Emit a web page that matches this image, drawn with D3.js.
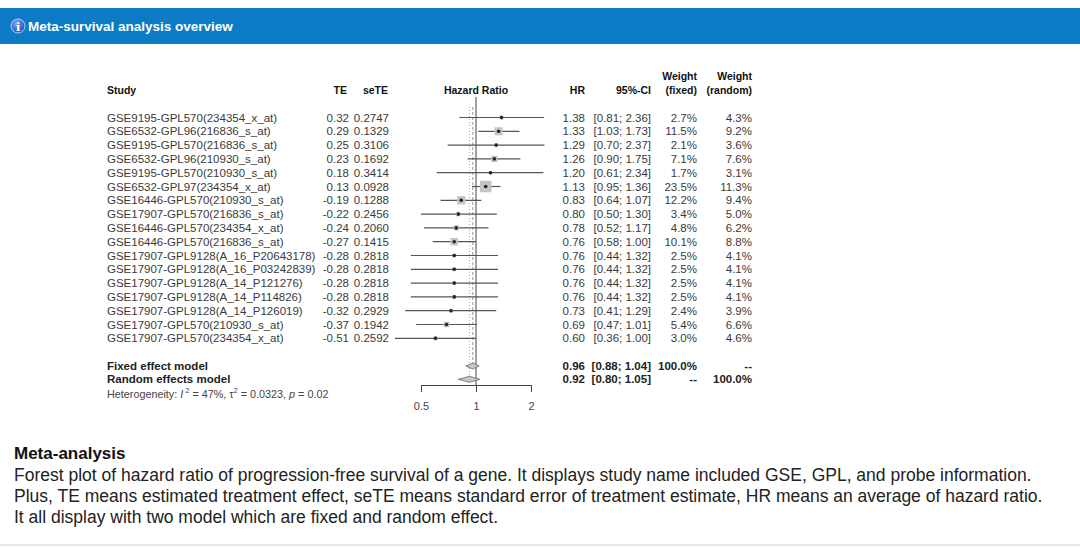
<!DOCTYPE html>
<html>
<head>
<meta charset="utf-8">
<script src="https://cdn.jsdelivr.net/npm/d3@7"></script>
<style>
  html, body { margin: 0; padding: 0; background: #fff; }
  svg { display: block; font-family: "Liberation Sans", Arial, sans-serif; }
</style>
</head>
<body>
<div id="chart"></div>
<script>
// forest plot: one row per study/probe
const STUDIES = [
  'GSE9195-GPL570(234354_x_at)',
  'GSE6532-GPL96(216836_s_at)',
  'GSE9195-GPL570(216836_s_at)',
  'GSE6532-GPL96(210930_s_at)',
  'GSE9195-GPL570(210930_s_at)',
  'GSE6532-GPL97(234354_x_at)',
  'GSE16446-GPL570(210930_s_at)',
  'GSE17907-GPL570(216836_s_at)',
  'GSE16446-GPL570(234354_x_at)',
  'GSE16446-GPL570(216836_s_at)',
  'GSE17907-GPL9128(A_16_P20643178)',
  'GSE17907-GPL9128(A_16_P03242839)',
  'GSE17907-GPL9128(A_14_P121276)',
  'GSE17907-GPL9128(A_14_P114826)',
  'GSE17907-GPL9128(A_14_P126019)',
  'GSE17907-GPL570(210930_s_at)',
  'GSE17907-GPL570(234354_x_at)'
];
const TE = [0.32, 0.29, 0.25, 0.23, 0.18, 0.13, -0.19, -0.22, -0.24, -0.27, -0.28, -0.28, -0.28, -0.28, -0.32, -0.37, -0.51];
const SE_TE = [0.2747, 0.1329, 0.3106, 0.1692, 0.3414, 0.0928, 0.1288, 0.2456, 0.2060, 0.1415, 0.2818, 0.2818, 0.2818, 0.2818, 0.2929, 0.1942, 0.2592];
const HR = [1.38, 1.33, 1.29, 1.26, 1.20, 1.13, 0.83, 0.80, 0.78, 0.76, 0.76, 0.76, 0.76, 0.76, 0.73, 0.69, 0.60];
const CI_LO = [0.81, 1.03, 0.70, 0.90, 0.61, 0.95, 0.64, 0.50, 0.52, 0.58, 0.44, 0.44, 0.44, 0.44, 0.41, 0.47, 0.36];
const CI_HI = [2.36, 1.73, 2.37, 1.75, 2.34, 1.36, 1.07, 1.30, 1.17, 1.00, 1.32, 1.32, 1.32, 1.32, 1.29, 1.01, 1.00];
const W_FIXED = [2.7, 11.5, 2.1, 7.1, 1.7, 23.5, 12.2, 3.4, 4.8, 10.1, 2.5, 2.5, 2.5, 2.5, 2.4, 5.4, 3.0];
const W_RANDOM = [4.3, 9.2, 3.6, 7.6, 3.1, 11.3, 9.4, 5.0, 6.2, 8.8, 4.1, 4.1, 4.1, 4.1, 3.9, 6.6, 4.6];

// pooled models
const MODELS = ['Fixed effect model', 'Random effects model'];
const MODEL_HR = [0.96, 0.92];
const MODEL_LO = [0.88, 0.80];
const MODEL_HI = [1.04, 1.05];
const MODEL_W_FIXED = ['100.0%', '--'];
const MODEL_W_RANDOM = ['--', '100.0%'];

const AXIS_TICKS = [0.5, 1, 2];

const W = 1080, H = 547;
const ROW_TOP = 117.5, ROW_STEP = 13.8;
const TEXT_COL = '#3a3a3a';

const svg = d3.select('#chart').append('svg').attr('width', W).attr('height', H);

// --- panel header bar
svg.append('rect').attr('x', 0).attr('y', 8).attr('width', W).attr('height', 36).attr('fill', '#0b7bc6');

const defs = svg.append('defs');
const grad = defs.append('radialGradient').attr('id', 'ico').attr('cx', '40%').attr('cy', '35%').attr('r', '70%');
grad.append('stop').attr('offset', '0%').attr('stop-color', '#7fa8f0');
grad.append('stop').attr('offset', '100%').attr('stop-color', '#1d48b8');
svg.append('circle').attr('cx', 18).attr('cy', 26).attr('r', 7).attr('fill', 'url(#ico)').attr('stroke', '#dfe8f8').attr('stroke-width', 0.8);
svg.append('text').attr('x', 18).attr('y', 30.5).attr('text-anchor', 'middle')
  .attr('font-family', '"DejaVu Serif", serif').attr('font-weight', 'bold')
  .attr('font-size', '11px').attr('fill', '#fff').text('i');
svg.append('text').attr('x', 28).attr('y', 30.5).attr('font-size', '13.5px').attr('font-weight', 'bold')
  .attr('fill', '#fff').text('Meta-survival analysis overview');

// --- scales
const x = d3.scaleLog().domain([0.5, 2]).range([421, 531]);
const y = d3.scaleLinear().domain([0, STUDIES.length - 1])
  .range([ROW_TOP, ROW_TOP + ROW_STEP * (STUDIES.length - 1)]);
const yModel = [366, 379.3];
const side = d3.scaleSqrt().domain([0, 23.5]).range([0, 11.5]);

// --- column headers
const hdr = svg.append('g').attr('font-size', '10.5px').attr('font-weight', 'bold').attr('fill', '#111');
const hdrY = 93.5;
hdr.append('text').attr('x', 107).attr('y', hdrY).text('Study');
hdr.append('text').attr('x', 347).attr('y', hdrY).attr('text-anchor', 'end').text('TE');
hdr.append('text').attr('x', 388).attr('y', hdrY).attr('text-anchor', 'end').text('seTE');
hdr.append('text').attr('x', 476).attr('y', hdrY).attr('text-anchor', 'middle').text('Hazard Ratio');
hdr.append('text').attr('x', 585).attr('y', hdrY).attr('text-anchor', 'end').text('HR');
hdr.append('text').attr('x', 651).attr('y', hdrY).attr('text-anchor', 'end').text('95%-CI');
hdr.append('text').attr('x', 697).attr('y', hdrY - 13.5).attr('text-anchor', 'end').text('Weight');
hdr.append('text').attr('x', 697).attr('y', hdrY).attr('text-anchor', 'end').text('(fixed)');
hdr.append('text').attr('x', 752).attr('y', hdrY - 13.5).attr('text-anchor', 'end').text('Weight');
hdr.append('text').attr('x', 752).attr('y', hdrY).attr('text-anchor', 'end').text('(random)');

// --- study rows text
const rows = STUDIES.map((s, i) => ({
  study: s, te: TE[i], se: SE_TE[i], hr: HR[i], lo: CI_LO[i], hi: CI_HI[i], wf: W_FIXED[i], wr: W_RANDOM[i], i
}));

const txt = svg.append('g').attr('font-size', '11.5px').attr('fill', TEXT_COL);
const cols = [
  { x: 107, anchor: 'start', f: (d) => d.study },
  { x: 349, anchor: 'end', f: (d) => d.te.toFixed(2) },
  { x: 389, anchor: 'end', f: (d) => d.se.toFixed(4) },
  { x: 585, anchor: 'end', f: (d) => d.hr.toFixed(2) },
  { x: 651, anchor: 'end', f: (d) => `[${d.lo.toFixed(2)}; ${d.hi.toFixed(2)}]` },
  { x: 697, anchor: 'end', f: (d) => d.wf.toFixed(1) + '%' },
  { x: 752, anchor: 'end', f: (d) => d.wr.toFixed(1) + '%' }
];
for (const c of cols) {
  txt.selectAll(null).data(rows).join('text')
    .attr('x', c.x).attr('y', (d) => y(d.i)).attr('dy', '0.35em')
    .attr('text-anchor', c.anchor).text(c.f);
}

// --- model rows text (bold)
const mtxt = svg.append('g').attr('font-size', '11.5px').attr('font-weight', 'bold').attr('fill', '#222');
MODELS.forEach((m, k) => {
  const yy = yModel[k];
  mtxt.append('text').attr('x', 107).attr('y', yy).attr('dy', '0.35em').text(m);
  mtxt.append('text').attr('x', 585).attr('y', yy).attr('dy', '0.35em').attr('text-anchor', 'end').text(MODEL_HR[k].toFixed(2));
  mtxt.append('text').attr('x', 651).attr('y', yy).attr('dy', '0.35em').attr('text-anchor', 'end')
    .text(`[${MODEL_LO[k].toFixed(2)}; ${MODEL_HI[k].toFixed(2)}]`);
  mtxt.append('text').attr('x', 697).attr('y', yy).attr('dy', '0.35em').attr('text-anchor', 'end').text(MODEL_W_FIXED[k]);
  mtxt.append('text').attr('x', 752).attr('y', yy).attr('dy', '0.35em').attr('text-anchor', 'end').text(MODEL_W_RANDOM[k]);
});

// heterogeneity line
const het = svg.append('text').attr('x', 107).attr('y', 397.5).attr('font-size', '10.8px').attr('fill', '#444');
het.append('tspan').text('Heterogeneity: ');
het.append('tspan').attr('font-style', 'italic').text('I');
het.append('tspan').attr('font-size', '7.5px').attr('dx', 2).attr('dy', -4.5).text('2');
het.append('tspan').attr('dy', 4.5).text(' = 47%, \u03c4');
het.append('tspan').attr('font-size', '7.5px').attr('dy', -4.5).text('2');
het.append('tspan').attr('dy', 4.5).text(' = 0.0323, ');
het.append('tspan').attr('font-style', 'italic').text('p');
het.append('tspan').text(' = 0.02');

// --- reference lines
const plot = svg.append('g');
plot.append('line').attr('x1', x(1)).attr('x2', x(1)).attr('y1', 97).attr('y2', 385)
  .attr('stroke', '#444').attr('stroke-width', 1);
plot.append('line').attr('x1', x(MODEL_HR[0])).attr('x2', x(MODEL_HR[0])).attr('y1', 107).attr('y2', yModel[0] - 3)
  .attr('stroke', '#999').attr('stroke-width', 1).attr('stroke-dasharray', '3,2');
plot.append('line').attr('x1', x(MODEL_HR[1])).attr('x2', x(MODEL_HR[1])).attr('y1', 107).attr('y2', yModel[1] - 3)
  .attr('stroke', '#aaa').attr('stroke-width', 1).attr('stroke-dasharray', '1,2');

// --- CI lines, weight squares and estimates
plot.selectAll('.ci').data(rows).join('line').attr('class', 'ci')
  .attr('x1', (d) => x(d.lo)).attr('x2', (d) => x(d.hi))
  .attr('y1', (d) => y(d.i)).attr('y2', (d) => y(d.i))
  .attr('stroke', '#555').attr('stroke-width', 1.2);
plot.selectAll('.sq').data(rows).join('rect').attr('class', 'sq')
  .attr('x', (d) => x(d.hr) - side(d.wf) / 2).attr('y', (d) => y(d.i) - side(d.wf) / 2)
  .attr('width', (d) => side(d.wf)).attr('height', (d) => side(d.wf))
  .attr('fill', '#c4c4c4');
plot.selectAll('.pt').data(rows).join('circle').attr('class', 'pt')
  .attr('cx', (d) => x(d.hr)).attr('cy', (d) => y(d.i))
  .attr('r', 1.8).attr('fill', '#222');

// --- pooled diamonds
MODELS.forEach((m, k) => {
  const yy = yModel[k];
  const pts = [[x(MODEL_LO[k]), yy], [x(MODEL_HR[k]), yy - 3], [x(MODEL_HI[k]), yy], [x(MODEL_HR[k]), yy + 3]];
  plot.append('polygon').attr('points', pts.map((p) => p.join(',')).join(' '))
    .attr('fill', '#c8c8c8').attr('stroke', '#666').attr('stroke-width', 0.8);
});

// --- x axis
const axis = svg.append('g').attr('transform', 'translate(0,385)')
  .call(d3.axisBottom(x).tickValues(AXIS_TICKS).tickFormat(d3.format('')).tickSize(7).tickSizeOuter(0).tickPadding(10));
axis.select('.domain').attr('stroke', '#444');
axis.selectAll('.tick line').attr('stroke', '#444');
axis.selectAll('.tick text').attr('font-size', '11px').attr('fill', '#444')
  .attr('font-family', '"Liberation Sans", Arial, sans-serif');

// --- description text
svg.append('text').attr('x', 14).attr('y', 459).attr('font-size', '17px').attr('font-weight', 'bold')
  .attr('fill', '#111').text('Meta-analysis');
const desc = [
  'Forest plot of hazard ratio of progression-free survival of a gene. It displays study name included GSE, GPL, and probe information.',
  'Plus, TE means estimated treatment effect, seTE means standard error of treatment estimate, HR means an average of hazard ratio.',
  'It all display with two model which are fixed and random effect.'
];
svg.selectAll('.desc').data(desc).join('text').attr('class', 'desc')
  .attr('x', 14).attr('y', (d, i) => 481 + i * 21)
  .attr('font-size', '17.5px').attr('fill', '#222').text((d) => d);

svg.append('line').attr('x1', 0).attr('x2', W).attr('y1', 545).attr('y2', 545)
  .attr('stroke', '#e6e6e6').attr('stroke-width', 2);
</script>
</body>
</html>
